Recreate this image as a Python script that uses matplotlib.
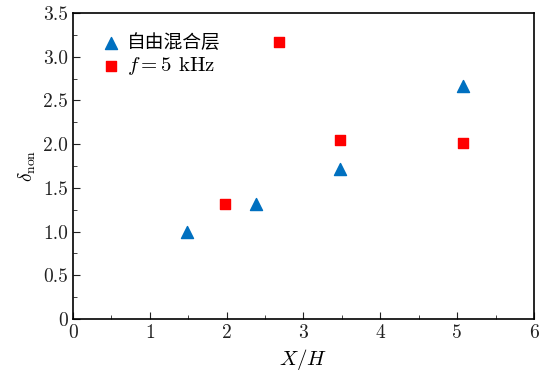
import matplotlib
matplotlib.use('Agg')
import matplotlib.pyplot as plt
from matplotlib.ticker import MultipleLocator

# data
x_free = [1.48, 2.38, 3.48, 5.08]
y_free = [0.99, 1.31, 1.72, 2.66]
x_5k = [1.98, 2.68, 3.48, 5.08]
y_5k = [1.32, 3.17, 2.05, 2.01]

xticks = [0, 1, 2, 3, 4, 5, 6]
yticks = [0, 0.5, 1.0, 1.5, 2.0, 2.5, 3.0, 3.5]
ylabels = ['0', '0.5', '1.0', '1.5', '2.0', '2.5', '3.0', '3.5']

plt.rcParams['font.family'] = ['cmr10', 'Noto Sans CJK SC', 'DejaVu Sans']
plt.rcParams['mathtext.fontset'] = 'cm'
plt.rcParams['axes.unicode_minus'] = False

fig = plt.figure(figsize=(5.39, 3.78), dpi=100)
ax = fig.add_axes([0.1354, 0.156, 0.8553, 0.8096])

ax.scatter(x_free, y_free, marker='^', s=75, color='#0070c0', label='自由混合层', zorder=3)
ax.scatter(x_5k, y_5k, marker='s', s=60, color='#ff0000', label=r'$f=5$ kHz', zorder=3)

ax.set_xlim(0, 6)
ax.set_ylim(0, 3.5)
ax.set_xticks(xticks)
ax.set_xticklabels([str(t) for t in xticks])
ax.set_yticks(yticks)
ax.set_yticklabels(ylabels)
ax.xaxis.set_minor_locator(MultipleLocator(0.5))
ax.yaxis.set_minor_locator(MultipleLocator(0.25))
ax.tick_params(which='both', direction='in', labelsize=14, colors='#222222')
ax.tick_params(which='major', length=5)
ax.tick_params(which='minor', length=3)
for s in ax.spines.values():
    s.set_linewidth(1.2)

ax.set_xlabel(r'$X/H$', fontsize=15)
ax.set_ylabel(r'$\delta_{\rm non}$', fontsize=14)

leg = ax.legend(loc='upper left', bbox_to_anchor=(0.02, 0.995), frameon=False,
                fontsize=14, handletextpad=0.2, labelspacing=0.1, handlelength=1.2)
t0, t1 = leg.get_texts()
t0.set_family(['Noto Sans CJK SC'])
t0.set_fontsize(13.5)
t1.set_fontsize(15)

fig.savefig('out.png', dpi=100)
